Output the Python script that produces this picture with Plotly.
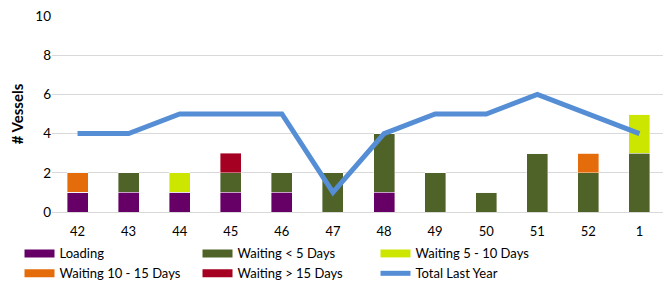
import plotly.graph_objects as go

weeks = ["42", "43", "44", "45", "46", "47", "48", "49", "50", "51", "52", "1"]
loading = [1, 1, 1, 1, 1, 0, 1, 0, 0, 0, 0, 0]
wait_lt5 = [0, 1, 0, 1, 1, 2, 3, 2, 1, 3, 2, 3]
wait_5_10 = [0, 0, 1, 0, 0, 0, 0, 0, 0, 0, 0, 2]
wait_10_15 = [1, 0, 0, 0, 0, 0, 0, 0, 0, 0, 1, 0]
wait_gt15 = [0, 0, 0, 1, 0, 0, 0, 0, 0, 0, 0, 0]
total_last_year = [4, 4, 5, 5, 5, 1, 4, 5, 5, 6, 5, 4]

series = [
    ("Loading", loading, "#660066"),
    ("Waiting < 5 Days", wait_lt5, "#4F6228"),
    ("Waiting 5 - 10 Days", wait_5_10, "#CCE600"),
    ("Waiting 10 - 15 Days", wait_10_15, "#E46C0A"),
    ("Waiting > 15 Days", wait_gt15, "#A50021"),
]
line_color = "#558ED5"
font = "Lato, Carlito, Calibri, sans-serif"

fig = go.Figure()
for name, vals, col in series:
    fig.add_trace(go.Bar(x=weeks, y=vals, name=name, marker=dict(color=col, line=dict(color="rgba(255,255,255,0.5)", width=0.8)),
                         showlegend=False))
fig.add_trace(go.Scatter(x=weeks, y=total_last_year, mode="lines", name="Total Last Year",
                         line=dict(color=line_color, width=5), showlegend=False))

# legend entries
for name, vals, col in series:
    fig.add_trace(go.Scatter(x=[None], y=[None], mode="lines", name=name,
                             line=dict(color=col, width=8)))
fig.add_trace(go.Scatter(x=[None], y=[None], mode="lines", name="Total Last Year",
                         line=dict(color=line_color, width=5)))

# page body adds an 8px offset; compensate in size and margins
fig.update_layout(
    width=663, height=277,
    margin=dict(l=44, r=6, t=8, b=73, autoexpand=False),
    barmode="stack", bargap=0.59,
    plot_bgcolor="white", paper_bgcolor="white",
    font=dict(family=font, size=13, color="#000000"),
    showlegend=True,
    legend=dict(orientation="h", x=-0.053, xanchor="left", y=-0.135, yanchor="top",
                entrywidth=133, entrywidthmode="pixels", font=dict(size=13),
                traceorder="normal", tracegroupgap=0, itemwidth=30),
    xaxis=dict(type="category", showgrid=False, showline=False, ticks="", tickfont=dict(size=13),
               ticklabelstandoff=10, automargin=False),
    yaxis=dict(range=[0, 10], dtick=2, showgrid=True, gridcolor="#D9D9D9", gridwidth=1,
               zeroline=True, zerolinecolor="#D9D9D9", zerolinewidth=1, showline=False,
               tickfont=dict(size=13.5), automargin=False, ticklabeloverflow="allow",
               title=dict(text="<b># Vessels</b>", font=dict(size=15), standoff=8)),
)

fig.write_html("out.html")
